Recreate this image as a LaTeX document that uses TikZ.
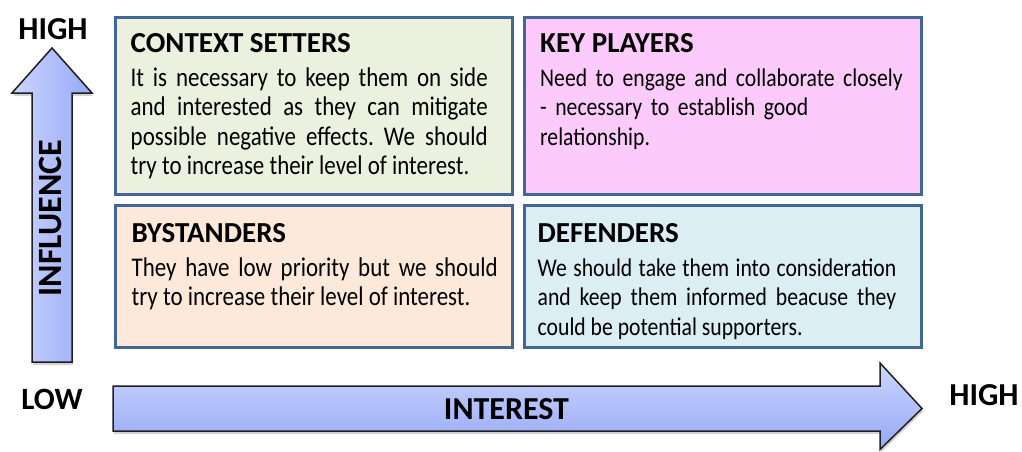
\documentclass[tikz,border=0pt]{standalone}
\usepackage{fontspec}
\setmainfont{Carlito}
\newfontfamily\bodyfont[FakeStretch=0.85]{Carlito}
\usepackage{tikz}
\usetikzlibrary{positioning, calc, shadows}
\hyphenpenalty=10000
\exhyphenpenalty=10000

\definecolor{quadline}{RGB}{66,102,150}
\definecolor{ctxfill}{RGB}{235,241,222}
\definecolor{kpfill}{RGB}{253,203,251}
\definecolor{bysfill}{RGB}{253,233,217}
\definecolor{deffill}{RGB}{219,238,244}
\definecolor{arrowlight}{RGB}{204,214,255}
\definecolor{arrowdark}{RGB}{150,168,245}
\definecolor{arrowline}{RGB}{30,30,35}

\tikzset{
  quad/.style={draw=quadline, line width=3pt, minimum width=397pt, inner sep=0pt, outer sep=0pt,
    drop shadow={shadow xshift=1pt, shadow yshift=-2pt, opacity=0.25}},
  quadtitle/.style={font=\fontsize{29}{34}\selectfont\bfseries, inner sep=0pt, anchor=base west},
  quadbody/.style={font=\bodyfont\fontsize{27}{29.5}\selectfont\frenchspacing, align=justify, inner sep=0pt, anchor=north west},
  smallbody/.style={font=\bodyfont\fontsize{25.5}{29.5}\selectfont\frenchspacing},
  axislabel/.style={font=\fontsize{31}{36}\selectfont\bfseries, inner sep=0pt, anchor=base},
  axisarrow/.style={draw=arrowline, line width=1.5pt, line join=miter,
    drop shadow={shadow xshift=1pt, shadow yshift=-3pt, opacity=0.35}}
}

\begin{document}
\begin{tikzpicture}[x=1pt, y=1pt]
  \useasboundingbox (0,0) rectangle (1022,451);

  % the four quadrants
  \node[quad, fill=ctxfill, minimum height=176.5pt] (ctx) at (313.5,345.25) {};
  \node[quad, fill=kpfill,  minimum height=176.5pt] (kp)  [right=12.5pt of ctx] {};
  \node[quad, fill=bysfill, minimum height=141.5pt] (bys) [below=11.5pt of ctx] {};
  \node[quad, fill=deffill, minimum height=141.5pt] (def) [below=11.5pt of kp] {};

  \node[quadtitle] (ctxT) at ([shift={(15.5pt,-35pt)}]ctx.north west) {CONTEXT SETTERS};
  \node[quadbody, text width=357pt] (ctxB) at ([shift={(15.5pt,-48pt)}]ctx.north west)
    {\strut It is necessary to keep them on side\linebreak and interested as they can mitigate\linebreak
     possible negative effects. We should\linebreak try to increase their level of interest.};

  \node[quadtitle] (kpT) at ([shift={(15.5pt,-35pt)}]kp.north west) {KEY PLAYERS};
  \node[quadbody, smallbody, text width=375pt, align=left] (kpB) at ([shift={(15.5pt,-48pt)}]kp.north west)
    {\strut Need to engage and collaborate closely\\ - necessary to establish good\\ relationship.};

  \node[quadtitle] (bysT) at ([shift={(16.5pt,-37pt)}]bys.north west) {BYSTANDERS};
  \node[quadbody, text width=366pt] (bysB) at ([shift={(16.5pt,-50pt)}]bys.north west)
    {\strut They have low priority but we should\linebreak try to increase their level of interest.};

  \node[quadtitle] (defT) at ([shift={(13pt,-37pt)}]def.north west) {DEFENDERS};
  \node[quadbody, smallbody, text width=358.5pt] (defB) at ([shift={(13pt,-50pt)}]def.north west)
    {\strut We should take them into consideration\linebreak and keep them informed beacuse they\linebreak
     could be potential supporters.};

  % axes
  \draw[axisarrow, left color=arrowlight, right color=arrowdark]
    (32,89) -- (72,89) -- (72,358) -- (92,358) -- (52,403) -- (12,358) -- (32,358) -- cycle;
  \draw[axisarrow, top color=arrowlight, bottom color=arrowdark]
    (113,20) -- (880,20) -- (880,1.5) -- (922,42.5) -- (880,88) -- (880,65) -- (113,65) -- cycle;

  \node[axislabel, rotate=90, font=\fontsize{34}{38}\selectfont\bfseries, anchor=center] (infl) at (50,233) {INFLUENCE};
  \node[axislabel, font=\fontsize{32}{38}\selectfont\bfseries] (intr) at (506.5,32) {INTEREST};
  \node[axislabel, font=\fontsize{32}{38}\selectfont\bfseries] (yhigh) at (53,411) {HIGH};
  \node[axislabel] (xlow)  at (52,42)  {LOW};
  \node[axislabel, font=\fontsize{32}{38}\selectfont\bfseries] (xhigh) at (984,46) {HIGH};
\end{tikzpicture}
\end{document}
